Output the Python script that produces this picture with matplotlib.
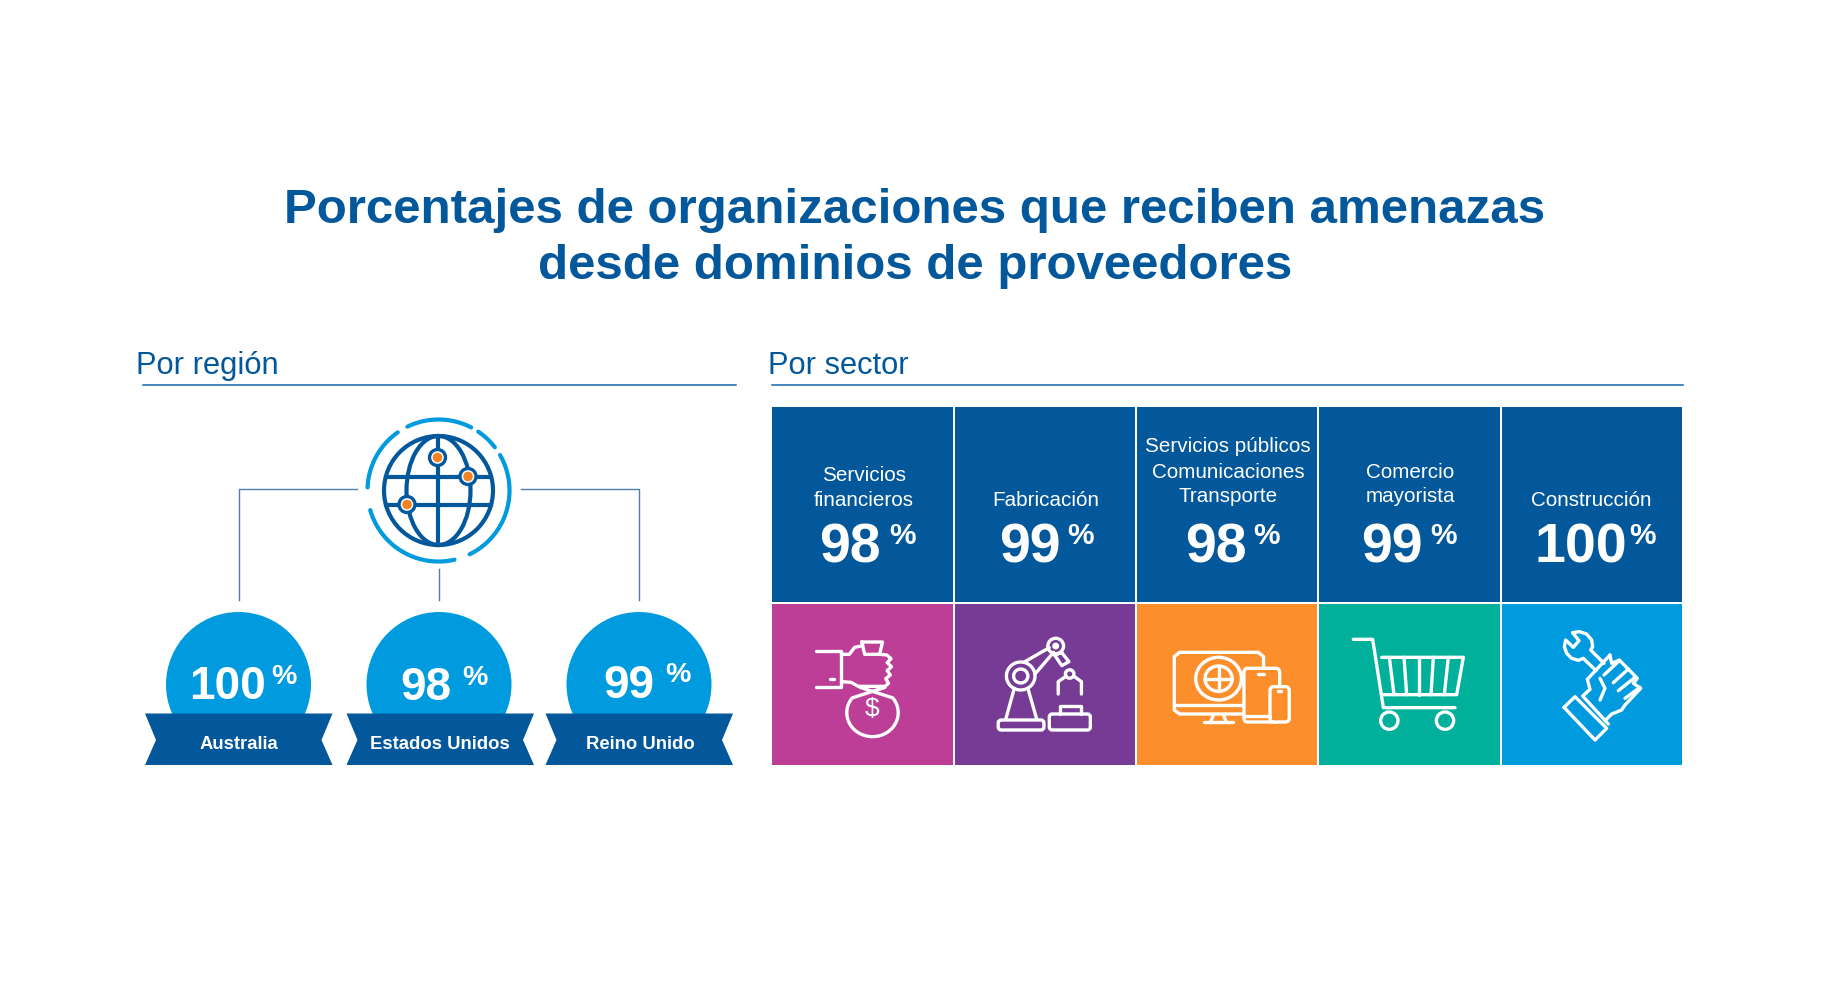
import numpy as np
from matplotlib import pyplot as plt
from matplotlib.patches import Circle, Ellipse, FancyBboxPatch, Polygon, Rectangle

plt.rcParams['font.family'] = ['Liberation Sans', 'DejaVu Sans']

title_lines = ['Porcentajes de organizaciones que reciben amenazas',
               'desde dominios de proveedores']

regions = ['Australia', 'Estados Unidos', 'Reino Unido']
region_values = [100, 98, 99]

sectors = [['Servicios', 'financieros'],
           ['Fabricación'],
           ['Servicios públicos', 'Comunicaciones', 'Transporte'],
           ['Comercio', 'mayorista'],
           ['Construcción']]
sector_values = [98, 99, 98, 99, 100]

DARK = '#03579b'
LIGHT = '#009ade'
LINE = '#4f7fb0'
ICON_LW = 2.4
tile_colors = ['#bc3e96', '#753b95', '#fc8f2b', '#00b09b', '#009ade']

fig = plt.figure(figsize=(18.24, 10.08), dpi=100)
ax = fig.add_axes([0, 0, 1, 1])
ax.set_xlim(0, 1824)
ax.set_ylim(1008, 0)
ax.axis('off')


def line(points, color='white', lw=ICON_LW, closed=False, conv=None):
    pts = [conv(*p) if conv else p for p in points]
    if closed:
        pts = pts + [pts[0]]
    xs, ys = zip(*pts)
    ax.plot(xs, ys, color=color, lw=lw, solid_capstyle='round', solid_joinstyle='round')


def round_box(x0, y0, x1, y1, pad=3, fc='none', ec='white', lw=ICON_LW, conv=None):
    if conv:
        x0, y0 = conv(x0, y0)
        x1, y1 = conv(x1, y1)
    ax.add_patch(FancyBboxPatch((x0 + pad, y0 + pad), x1 - x0 - 2 * pad, y1 - y0 - 2 * pad,
                                boxstyle='round,pad=%s' % pad, fc=fc, ec=ec, lw=lw))


def ring(cx, cy, r, start, end, color, lw):
    t = np.radians(np.linspace(start, end, 60))
    ax.plot(cx + r * np.cos(t), cy - r * np.sin(t), color=color, lw=lw, solid_capstyle='round')


# titulo y encabezados
for txt, y in zip(title_lines, [223, 279]):
    ax.text(915, y, txt, color=DARK, fontsize=35.5, fontweight='bold', ha='center', va='baseline')

ax.text(136.5, 374, 'Por región', color=DARK, fontsize=22.2, va='baseline')
ax.text(768.5, 374, 'Por sector', color=DARK, fontsize=22.2, va='baseline')
ax.plot([143, 736], [385, 385], color='#1565ad', lw=1.1)
ax.plot([772, 1683], [385, 385], color='#1565ad', lw=1.1)

# conectores
ax.plot([357, 239.5, 239.5], [489, 489, 600], color=LINE, lw=1)
ax.plot([439, 439], [569, 600], color=LINE, lw=1)
ax.plot([521, 639.5, 639.5], [489, 489, 600], color=LINE, lw=1)

# globo
gx, gy = 438.5, 490.5
for a, b in [(62.6, 116), (37.5, 56), (-64, 30), (-164, -77), (125, 177.5)]:
    ring(gx, gy, 71, a, b, LIGHT, 3)
ax.add_patch(Circle((gx, gy), 54.5, fc='none', ec=DARK, lw=3))
ax.add_patch(Ellipse((gx, gy), 64, 109, fc='none', ec=DARK, lw=3))
ax.plot([gx, gx], [gy - 54, gy + 54], color=DARK, lw=3)
for y in [476.5, 504.5]:
    half = np.sqrt(54 ** 2 - (y - gy) ** 2)
    ax.plot([gx - half, gx + half], [y, y], color=DARK, lw=3)
for x, y in [(437.5, 457.5), (468, 476.5), (407, 504.5)]:
    ax.add_patch(Circle((x, y), 8, fc='white', ec=DARK, lw=2.4, zorder=3))
    ax.add_patch(Circle((x, y), 4.8, fc='#f58220', ec='none', zorder=4))

# insignias por region
badge_x = [238.5, 439, 639]
ribbon_x = [145, 346.5, 545.5]
num_x = [189, 400.5, 603.5]
pct_x = [271, 462, 665.5]
num_y = [699, 700, 697.5]
text_x = [239, 440, 640]
for i, name in enumerate(regions):
    ax.add_patch(Circle((badge_x[i], 684.5), 72.5, fc=LIGHT, ec='none'))
    x0 = ribbon_x[i]
    x1 = x0 + 187.5
    ax.add_patch(Polygon([(x0, 713.5), (x1, 713.5), (x1 - 11, 740), (x1, 765), (x0, 765), (x0 + 11, 740)],
                         closed=True, fc=DARK, ec='none'))
    ax.text(num_x[i], num_y[i], str(region_values[i]), color='white', fontsize=33, fontweight='bold',
            ha='left', va='baseline')
    ax.text(pct_x[i], num_y[i] - 15, '%', color='white', fontsize=20.5, fontweight='bold', ha='left', va='baseline')
    ax.text(text_x[i], 749, name, color='white', fontsize=13.3, fontweight='bold', ha='center', va='baseline')

# mosaico por sector
tile_x = [772.5, 955, 1137, 1319.5, 1502]
tile_w = [180.5, 180.5, 180.5, 180.5, 180.5]
label_x = [864, 1046, 1228, 1410, 1591]
label_y = [[476, 501], [501], [447, 473.5, 496.5], [473.5, 497.5], [501]]
tile_num_x = [819.5, 999.5, 1185, 1361, 1535]
tile_pct_x = [889, 1067.5, 1253.5, 1430, 1629]
for i, rows in enumerate(sectors):
    ax.add_patch(Rectangle((tile_x[i], 407), tile_w[i], 195, fc=DARK, ec='none'))
    ax.add_patch(Rectangle((tile_x[i], 603.5), tile_w[i], 161.5, fc=tile_colors[i], ec='none'))
    for row, y in zip(rows, label_y[i]):
        ax.text(label_x[i], y + 5, row, color='white', fontsize=14.9, ha='center', va='baseline')
    ax.text(tile_num_x[i], 562.5, str(sector_values[i]), color='white', fontsize=40, fontweight='bold',
            ha='left', va='baseline')
    ax.text(tile_pct_x[i], 544, '%', color='white', fontsize=21.5, fontweight='bold', ha='left', va='baseline')


def z2(X, Y):
    return 760 + X / 2.8, 600 + Y / 3


def z3(X, Y):
    return 1300 + X / 3, 600 + Y / 3


# mano con bolsa
line([(158, 154), (228, 154), (228, 262), (158, 262)], conv=z2)
line([(196, 237), (206, 237)], conv=z2)
line([(228, 163), (250, 163), (265, 142), (288, 137)], conv=z2)
line([(285, 126), (343, 126), (335, 163), (293, 163)], closed=True, conv=z2)
line([(335, 163), (355, 165), (367, 176), (356, 188), (368, 200), (356, 212), (365, 225),
      (352, 236), (360, 250), (350, 259), (275, 259), (255, 247), (228, 245)], conv=z2)
t = np.radians(np.linspace(-38, 218, 50))
line([(280, 262)] + [(315 + 72 * np.cos(a), 338 + 72 * np.sin(a)) for a in t] + [(350, 262)], conv=z2)
x, y = z2(315, 328)
ax.text(x, y, '$', color='white', fontsize=19, ha='center', va='center')

# brazo robot
round_box(667, 360, 795, 390, conv=z2)
line([(712, 265), (688, 358)], conv=z2)
line([(750, 265), (775, 358)], conv=z2)
for cx, cy, r in [(730, 228, 40), (730, 228, 20), (828, 138, 22), (867, 222, 12), (828, 138, 5)]:
    ax.add_patch(Ellipse(z2(cx, cy), 2 * r / 2.8, 2 * r / 3 * 1.05, fc='none', ec='white', lw=ICON_LW))
line([(740, 186), (810, 143)], conv=z2)
line([(770, 222), (822, 157)], conv=z2)
line([(825, 165), (845, 158), (865, 185), (845, 197)], closed=True, conv=z2)
line([(835, 282), (835, 245), (858, 228)], conv=z2)
line([(900, 282), (900, 245), (878, 228)], conv=z2)
round_box(810, 342, 925, 390, conv=z2)
line([(840, 342), (840, 318), (898, 318), (898, 342)], conv=z2)

# dispositivos
line([(1352, 342), (1175, 342), (1160, 330), (1160, 170), (1175, 157), (1395, 157), (1410, 170), (1410, 205)], conv=z2)
line([(1160, 315), (1352, 315)], conv=z2)
line([(1270, 345), (1262, 365)], conv=z2)
line([(1298, 345), (1305, 365)], conv=z2)
line([(1242, 366), (1325, 366)], conv=z2)
for r in [64, 38]:
    ax.add_patch(Ellipse(z2(1284, 236), 2 * r / 2.8, 2 * r / 3, fc='none', ec='white', lw=ICON_LW))
line([(1246, 236), (1322, 236)], conv=z2)
line([(1284, 198), (1284, 274)], conv=z2)
round_box(1355, 205, 1455, 366, pad=4, fc=tile_colors[2], conv=z2)
line([(1395, 221), (1410, 221)], conv=z2)
line([(1355, 347), (1428, 347)], conv=z2)
round_box(1428, 260, 1482, 366, pad=4, fc=tile_colors[2], conv=z2)
line([(1450, 274), (1460, 274)], conv=z2)

# carrito
line([(160, 118), (218, 118), (250, 323), (465, 323)], conv=z3)
line([(245, 172), (490, 172), (470, 284), (252, 284)], conv=z3)
for a, b in [(268, 282), (312, 320), (358, 358), (400, 393), (445, 433)]:
    line([(a, 172), (b, 284)], conv=z3)
for cx in [268, 435]:
    ax.add_patch(Circle(z3(cx, 362), 26 / 3, fc='none', ec='white', lw=ICON_LW))

# mano con llave
line([(818, 98), (838, 95), (860, 102), (875, 120), (878, 140), (872, 150), (912, 190)], conv=z3)
line([(818, 98), (837, 122), (820, 142), (797, 120), (793, 140), (800, 160), (815, 175),
      (835, 181), (850, 175), (888, 212)], conv=z3)
line([(930, 165), (862, 238), (870, 268), (848, 288), (925, 372)], conv=z3)
line([(792, 322), (825, 290), (920, 385), (885, 420)], closed=True, conv=z3)
line([(930, 165), (935, 190), (958, 180), (1012, 235), (1000, 250), (1022, 265), (975, 315),
      (965, 330), (935, 342), (915, 362)], conv=z3)
line([(912, 225), (958, 182)], conv=z3)
line([(940, 248), (985, 207)], conv=z3)
line([(955, 272), (1005, 232)], conv=z3)
line([(975, 295), (1020, 262)], conv=z3)
line([(900, 235), (915, 265), (900, 300)], conv=z3)

fig.savefig('out.png', dpi=100, facecolor='white')
